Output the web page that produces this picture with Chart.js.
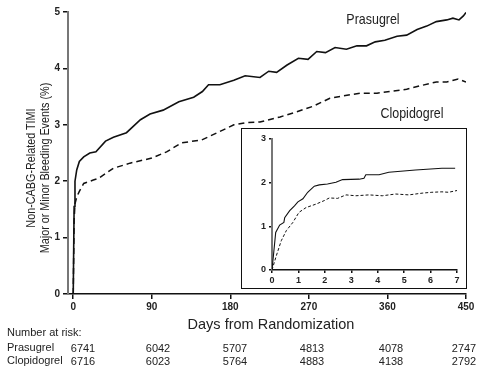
<!DOCTYPE html>
<html>
<head>
<meta charset="utf-8">
<script src="https://cdn.jsdelivr.net/npm/chart.js@4/dist/chart.umd.min.js"></script>
<style>
  body { margin: 0; background: #fff; }
  #wrap { position: relative; width: 484px; height: 374px; overflow: hidden; font-family: "Liberation Sans", Arial, sans-serif; color: #222; }
  #main { position: absolute; left: 0; top: 0; }
  #insetBox { position: absolute; left: 241px; top: 128px; width: 226px; height: 161px; border: 1px solid #111; box-sizing: border-box; background: #fff; }
  #inset { position: absolute; left: 0; top: 0; }
  .lbl { position: absolute; white-space: nowrap; transform: translate(-50%, -50%); }
  .series { font-size: 15px; transform: translate(-50%, -50%) scaleX(0.83); }
  .ytitle { font-size: 13.5px; transform: translate(-50%, -50%) rotate(-90deg) scaleX(0.8); }
  .risk { position: absolute; font-size: 11px; white-space: nowrap; }
  .num { transform: translateX(-50%); }
</style>
</head>
<body>
<div id="wrap">
  <canvas id="main" width="484" height="374"></canvas>
  <div id="insetBox"><canvas id="inset" width="224" height="159"></canvas></div>
  <div class="lbl series" style="left:373px; top:18px;">Prasugrel</div>
  <div class="lbl series" style="left:412px; top:112px;">Clopidogrel</div>
  <div class="lbl ytitle" style="left:30px; top:168px;">Non-CABG-Related TIMI</div>
  <div class="lbl ytitle" style="left:44px; top:168px;">Major or Minor Bleeding Events (%)</div>
  <div class="lbl" style="left:271px; top:324px; font-size:14.5px;">Days from Randomization</div>
  <div id="riskTable"></div>
</div>
<script>
// main curve, full 450 days
const prasugrelDays = [0, 1, 2, 4, 7, 12, 19, 26, 37, 46, 61, 77, 88, 103, 121, 138, 148, 155, 168, 184, 197, 214, 224, 233, 245, 258, 269, 279, 289, 300, 313, 325, 336, 346, 357, 371, 382, 394, 405, 416, 428, 435, 442, 447, 450];
const prasugrelPct = [0, 1.55, 2.0, 2.2, 2.35, 2.43, 2.50, 2.52, 2.71, 2.78, 2.86, 3.09, 3.19, 3.26, 3.41, 3.49, 3.59, 3.71, 3.71, 3.79, 3.87, 3.84, 3.95, 3.93, 4.06, 4.18, 4.16, 4.30, 4.28, 4.37, 4.34, 4.40, 4.40, 4.47, 4.50, 4.57, 4.59, 4.69, 4.75, 4.83, 4.86, 4.89, 4.86, 4.93, 4.99];
const clopidogrelDays = [0, 1, 2, 4, 7, 12, 23, 29, 46, 65, 90, 107, 124, 147, 165, 184, 199, 214, 237, 256, 275, 294, 308, 329, 348, 367, 382, 397, 416, 428, 441, 450];
const clopidogrelPct = [0, 1.3, 1.6, 1.72, 1.82, 1.96, 2.02, 2.05, 2.23, 2.32, 2.41, 2.52, 2.68, 2.73, 2.86, 3.0, 3.04, 3.05, 3.14, 3.23, 3.33, 3.47, 3.51, 3.56, 3.56, 3.60, 3.63, 3.69, 3.76, 3.76, 3.81, 3.76];

// inset, first 7 days
const insetPrasugrelDays = [0, 0.14, 0.29, 0.45, 0.48, 0.67, 0.85, 0.98, 1.17, 1.35, 1.6, 1.79, 2.1, 2.42, 2.67, 3.3, 3.48, 3.55, 4.05, 4.42, 5.43, 6.43, 6.93];
const insetPrasugrelPct = [0, 0.86, 1.03, 1.09, 1.20, 1.36, 1.47, 1.56, 1.63, 1.78, 1.92, 1.95, 1.97, 2.01, 2.07, 2.08, 2.10, 2.18, 2.18, 2.24, 2.29, 2.33, 2.33];
const insetClopidogrelDays = [0, 0.16, 0.35, 0.54, 0.79, 1.02, 1.29, 1.67, 1.98, 2.17, 2.48, 2.80, 3.17, 3.67, 4.17, 4.68, 5.18, 5.68, 6.05, 6.43, 6.68, 7.0];
const insetClopidogrelPct = [0, 0.32, 0.67, 0.90, 1.09, 1.32, 1.43, 1.51, 1.59, 1.65, 1.64, 1.72, 1.70, 1.72, 1.70, 1.74, 1.72, 1.76, 1.78, 1.79, 1.78, 1.82];

const xTicks = [0, 90, 180, 270, 360, 450];
const yTicks = [0, 1, 2, 3, 4, 5];
const insetXTicks = [0, 1, 2, 3, 4, 5, 6, 7];
const insetYTicks = [0, 1, 2, 3];

const riskGroups = ['Prasugrel', 'Clopidogrel'];
const riskPrasugrel = [6741, 6042, 5707, 4813, 4078, 2747];
const riskClopidogrel = [6716, 6023, 5764, 4883, 4138, 2792];

function toPoints(xs, ys) {
  return xs.map((x, i) => ({ x: x, y: ys[i] }));
}

const tickFont = { family: 'Liberation Sans, Arial, sans-serif', weight: 'bold' };

function axes(xMin, xMax, yMax, xt, yt, yWidth, xHeight, tickLen, fontSize) {
  return {
    x: {
      type: 'linear', min: xMin, max: xMax,
      afterBuildTicks: s => { s.ticks = xt.map(v => ({ value: v })); },
      afterFit: s => { s.height = xHeight; },
      ticks: { color: '#222', font: Object.assign({ size: fontSize }, tickFont), padding: 2, maxRotation: 0, autoSkip: false },
      grid: { drawOnChartArea: false, tickLength: tickLen, color: '#111', lineWidth: 1.5 },
      border: { color: '#111', width: 1.5 }
    },
    y: {
      min: 0, max: yMax,
      afterBuildTicks: s => { s.ticks = yt.map(v => ({ value: v })); },
      afterFit: s => { s.width = yWidth; },
      ticks: { color: '#222', font: Object.assign({ size: fontSize }, tickFont), padding: 3 },
      grid: { drawOnChartArea: false, tickLength: tickLen, color: '#111', lineWidth: 1.5 },
      border: { color: '#777', width: 2 }
    }
  };
}

const lineBase = { pointRadius: 0, tension: 0, fill: false, borderColor: '#111' };

new Chart(document.getElementById('main'), {
  type: 'line',
  data: {
    datasets: [
      Object.assign({ label: 'Prasugrel', data: toPoints(prasugrelDays, prasugrelPct), borderWidth: 1.6 }, lineBase),
      Object.assign({ label: 'Clopidogrel', data: toPoints(clopidogrelDays, clopidogrelPct), borderWidth: 1.5, borderDash: [6, 4] }, lineBase)
    ]
  },
  options: {
    responsive: false, animation: false, devicePixelRatio: 1,
    layout: { padding: { top: 12, right: 18, left: 0, bottom: 0 } },
    scales: axes(-6, 450, 5, xTicks, yTicks, 68, 80, 5, 10),
    plugins: { legend: { display: false }, tooltip: { enabled: false } }
  }
});

new Chart(document.getElementById('inset'), {
  type: 'line',
  data: {
    datasets: [
      Object.assign({ label: 'Prasugrel', data: toPoints(insetPrasugrelDays, insetPrasugrelPct), borderWidth: 1.1 }, lineBase),
      Object.assign({ label: 'Clopidogrel', data: toPoints(insetClopidogrelDays, insetClopidogrelPct), borderWidth: 1, borderDash: [3, 2] }, lineBase)
    ]
  },
  options: {
    responsive: false, animation: false, devicePixelRatio: 1,
    layout: { padding: { top: 10, right: 9, left: 0, bottom: 0 } },
    scales: axes(0, 7, 3, insetXTicks, insetYTicks, 30, 18, 3, 9),
    plugins: { legend: { display: false }, tooltip: { enabled: false } }
  }
});

// number at risk table
const table = document.getElementById('riskTable');
const colX = [83, 158, 235, 312, 391, 464];
const rowY = [341, 354];
let html = '<div class="risk" style="left:7px; top:326px;">Number at risk:</div>';
[riskPrasugrel, riskClopidogrel].forEach((row, r) => {
  html += '<div class="risk" style="left:7px; top:' + rowY[r] + 'px;">' + riskGroups[r] + '</div>';
  row.forEach((n, i) => {
    html += '<div class="risk num" style="left:' + colX[i] + 'px; top:' + (rowY[r] + 1) + 'px;">' + n + '</div>';
  });
});
table.innerHTML = html;
</script>
</body>
</html>
